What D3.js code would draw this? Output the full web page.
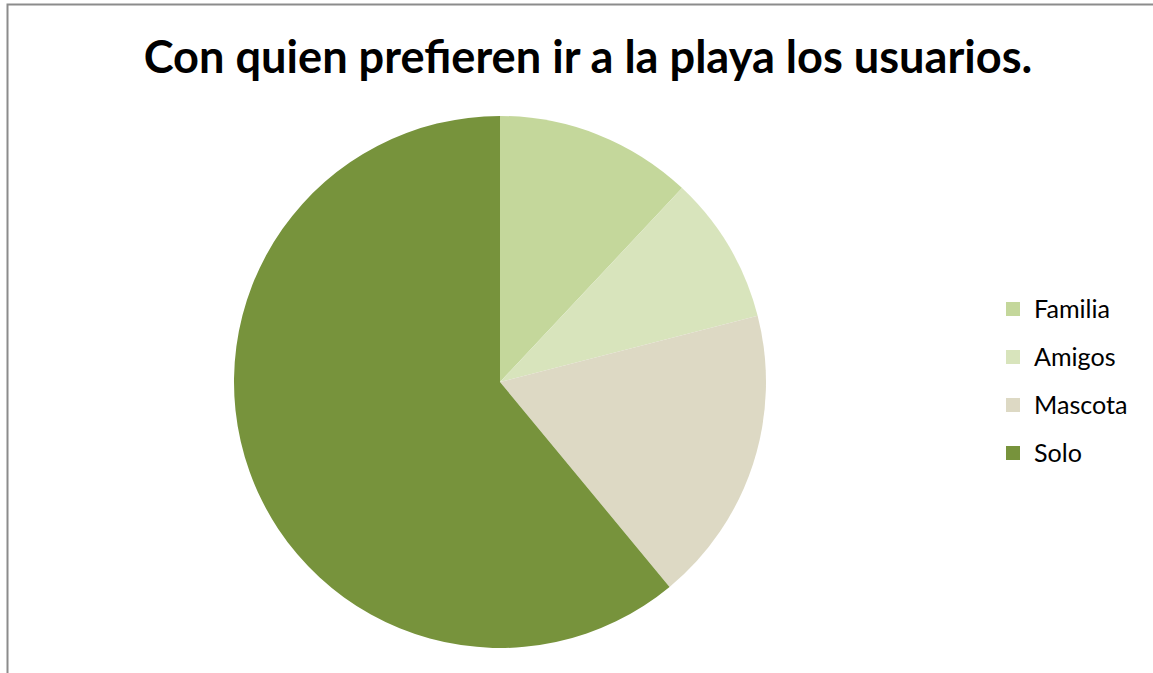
<!DOCTYPE html>
<html><head><meta charset="utf-8">
<script src="https://cdn.jsdelivr.net/npm/d3@7"></script>
<style>html,body{margin:0;padding:0;background:#fff;}svg{display:block;}</style>
</head><body>
<svg id="c" width="1153" height="673"></svg>
<script>
const categories = ["Familia", "Amigos", "Mascota", "Solo"];
const values = [12, 9, 18, 61];
const colors = ["#c4d79b", "#d8e4bc", "#ddd9c4", "#77933c"];
const title = "Con quien prefieren ir a la playa los usuarios.";

const svg = d3.select("#c");
svg.append("rect").attr("x", 0).attr("y", 0).attr("width", 1153).attr("height", 673).attr("fill", "#fff");
svg.append("path").attr("d", "M7.5,673 V4.5 H1153").attr("fill", "none").attr("stroke", "#8c8c8c").attr("stroke-width", 2);

const t = svg.append("text").attr("x", 588).attr("y", 73).attr("text-anchor", "middle")
  .attr("font-family", "Lato, 'Open Sans', sans-serif").attr("font-weight", "bold")
  .attr("font-size", 40).attr("fill", "#000").text(title);
const w = t.node().getComputedTextLength();
t.attr("font-size", 40 * 889 / w);

const data = categories.map((c, i) => ({ c, v: values[i] }));
const pie = d3.pie().value(d => d.v).sort(null);
const arc = d3.arc().innerRadius(0).outerRadius(266);
const color = d3.scaleOrdinal().domain(categories).range(colors);
const g = svg.append("g").attr("transform", "translate(500,382)");
g.selectAll("path").data(pie(data)).join("path")
  .attr("d", arc).attr("fill", d => color(d.data.c));

const lg = svg.append("g").attr("transform", "translate(1006,302)");
const y = d3.scalePoint().domain(categories).range([0, 144]);
const items = lg.selectAll("g").data(categories).join("g").attr("transform", d => `translate(0,${y(d)})`);
items.append("rect").attr("width", 14).attr("height", 14).attr("fill", d => color(d));
const lt = items.append("text").attr("x", 28).attr("y", 16).attr("font-family", "Lato, 'Open Sans', sans-serif")
  .attr("font-size", 22).attr("fill", "#000").text(d => d);
const lw = lt.nodes()[0].getComputedTextLength();
lt.attr("font-size", 22 * 76 / lw);
</script>
</body></html>
